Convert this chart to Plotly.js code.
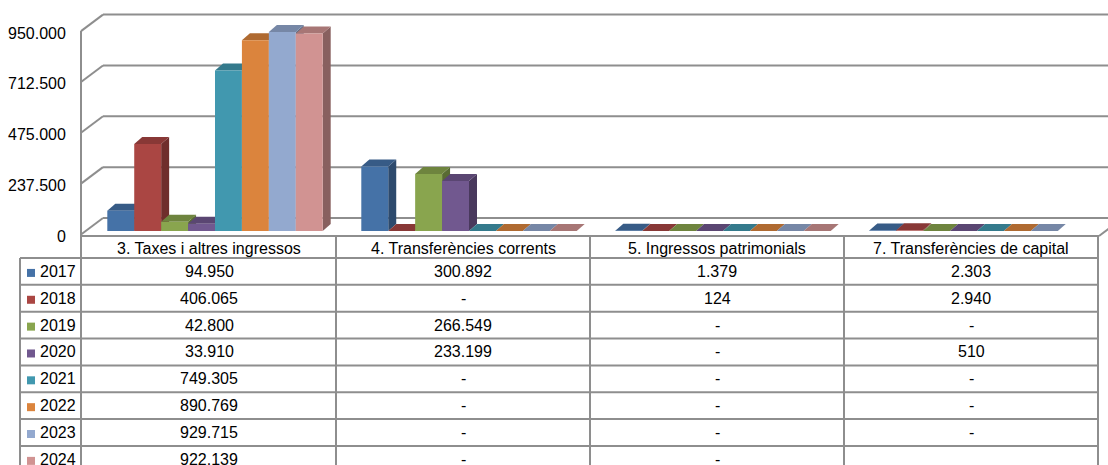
<!DOCTYPE html>
<html><head><meta charset="utf-8">
<script src="https://cdn.plot.ly/plotly-3.0.1.min.js"></script>
<style>html,body{margin:0;padding:0;background:#fff;overflow:hidden}</style>
</head><body><div id="chart" style="width:1108px;height:465px"></div>
<script>
// ---- data ----
const categories = ["3. Taxes i altres ingressos", "4. Transferències corrents", "5. Ingressos patrimonials", "7. Transferències de capital"];
const years = ["2017", "2018", "2019", "2020", "2021", "2022", "2023", "2024"];
const colors = ["#4572A7", "#AA4643", "#89A54E", "#71588F", "#4198AF", "#DB843D", "#93A9CF", "#D19392"];
const v2017 = [94950, 300892, 1379, 2303];
const v2018 = [406065, 0, 124, 2940];
const v2019 = [42800, 266549, 0, 0];
const v2020 = [33910, 233199, 0, 510];
const v2021 = [749305, 0, 0, 0];
const v2022 = [890769, 0, 0, 0];
const v2023 = [929715, 0, 0, 0];
const v2024 = [922139, 0, 0, null];
const yTicks = [0, 237500, 475000, 712500, 950000];
const series = [v2017, v2018, v2019, v2020, v2021, v2022, v2023, v2024];

// ---- geometry ----
const W = 1108, H = 465;
const ML = 88, MR = 4, MT = 0, MB = 234;
const plotW = W - ML - MR, plotH = H - MT - MB;
const YMAX = 1079000;
const nCat = categories.length, nSer = years.length;
const catPx = plotW / nCat;
const groupW = 0.848, barW = groupW / nSer;
const DX = 8, DY = 7;            // bar depth in px
const dxu = DX / catPx, dyu = DY * YMAX / plotH;
const FX = 81, BX = 103;         // wall front / back x
const FRONT_OFF = 3.5, BACK_OFF = -13;
const tableL = 20, tableC0 = 82, tableR = tableC0 + catPx * nCat + 1;
const headTop = 236, headBot = 258, rowH = 26.85;
const LINE = "#8e8e8e";
const FONT = {family: "Liberation Sans, Arial, sans-serif", size: 16, color: "#000"};

const py = v => MT + plotH * (1 - v / YMAX);
const PX = p => (p - ML) / plotW;
const PY = p => (MT + plotH - p) / plotH;
const fmt = v => v === null ? "" : (v === 0 ? "-" : String(v).replace(/\B(?=(\d{3})+(?!\d))/g, "."));
function shade(hex, f) {
  const n = parseInt(hex.slice(1), 16);
  const r = Math.round(((n >> 16) & 255) * f), g = Math.round(((n >> 8) & 255) * f), b = Math.round((n & 255) * f);
  return "rgb(" + r + "," + g + "," + b + ")";
}

const shapes = [];
const annotations = [];
function pline(x0, y0, x1, y1, color, w) {
  shapes.push({type: "line", xref: "paper", yref: "paper", x0: PX(x0), y0: PY(y0), x1: PX(x1), y1: PY(y1),
    line: {color: color || LINE, width: w || 2}, layer: "below"});
}

// walls & gridlines
yTicks.forEach(v => {
  const yf = py(v) + FRONT_OFF, yb = py(v) + BACK_OFF;
  pline(FX, yf, BX, yb);
  pline(BX, yb, W + 5, yb);
  annotations.push({xref: "paper", yref: "paper", x: PX(68), y: PY(yf + 2), xanchor: "right", yanchor: "middle",
    text: v === 0 ? "0" : fmt(v), showarrow: false, font: FONT});
});
pline(FX, py(yTicks[yTicks.length - 1]) + FRONT_OFF, FX, H + 2);
// floor front / table top & right floor edge
pline(FX, headTop, tableR, headTop);
pline(tableR, headTop, tableR + 22, headTop - 16.5);

// table grid
for (let k = 0; k <= nSer; k++) {
  const y = headBot + rowH * k;
  pline(tableL, y, tableR, y);
}
pline(tableL, headBot, tableL, H + 2);
for (let i = 1; i <= nCat; i++) {
  const x = tableC0 + catPx * i;
  pline(x, headTop, x, H + 2);
}
// header texts
categories.forEach((c, i) => {
  annotations.push({xref: "paper", yref: "paper", x: PX(tableC0 + catPx * (i + 0.5)), y: PY((headTop + headBot) / 2 + 1),
    xanchor: "center", yanchor: "middle", text: c, showarrow: false, font: FONT});
});
// rows
years.forEach((yr, j) => {
  const yc = headBot + rowH * (j + 0.5);
  shapes.push({type: "rect", xref: "paper", yref: "paper", x0: PX(27), x1: PX(35), y0: PY(yc - 2.5), y1: PY(yc + 5.5),
    fillcolor: colors[j], line: {width: 0}, layer: "below"});
  annotations.push({xref: "paper", yref: "paper", x: PX(38), y: PY(yc), xanchor: "left", yanchor: "middle",
    text: yr, showarrow: false, font: FONT});
  series[j].forEach((v, i) => {
    const t = fmt(v);
    if (t === "") return;
    annotations.push({xref: "paper", yref: "paper", x: PX(tableC0 + catPx * (i + 0.5)), y: PY(yc),
      xanchor: "center", yanchor: "middle", text: t, showarrow: false, font: FONT});
  });
});

// 3D faces of bars
const traces = [];
series.forEach((vals, j) => {
  const off = -groupW / 2 + j * barW;
  traces.push({type: "bar", x: categories, y: vals, name: years[j], width: barW, offset: off,
    marker: {color: colors[j], line: {width: 0}}, hoverinfo: "skip"});
  vals.forEach((v, i) => {
    if (v === null) return;
    const l = i + off, r = l + barW;
    // side face
    shapes.push({type: "path", xref: "x", yref: "y", layer: "below", line: {width: 0}, fillcolor: shade(colors[j], 0.65),
      path: `M${r},0 L${r},${v} L${r + dxu},${v + dyu} L${r + dxu},${dyu} Z`});
    // top face
    shapes.push({type: "path", xref: "x", yref: "y", layer: "below", line: {width: 0}, fillcolor: shade(colors[j], 0.8),
      path: `M${l},${v} L${r},${v} L${r + dxu},${v + dyu} L${l + dxu},${v + dyu} Z`});
  });
});

const layout = {
  width: W, height: H,
  margin: {l: ML, r: MR, t: MT, b: MB, pad: 0},
  paper_bgcolor: "#fff", plot_bgcolor: "rgba(0,0,0,0)",
  barmode: "overlay", showlegend: false,
  xaxis: {type: "category", categoryorder: "array", categoryarray: categories, range: [-0.5, nCat - 0.5],
    showticklabels: false, showgrid: false, zeroline: false, showline: false, ticks: "", fixedrange: true},
  yaxis: {range: [0, YMAX], showticklabels: false, showgrid: false, zeroline: false, showline: false, ticks: "", fixedrange: true},
  shapes: shapes, annotations: annotations,
  font: FONT
};
Plotly.newPlot("chart", traces, layout, {staticPlot: true, displayModeBar: false});
</script></body></html>
